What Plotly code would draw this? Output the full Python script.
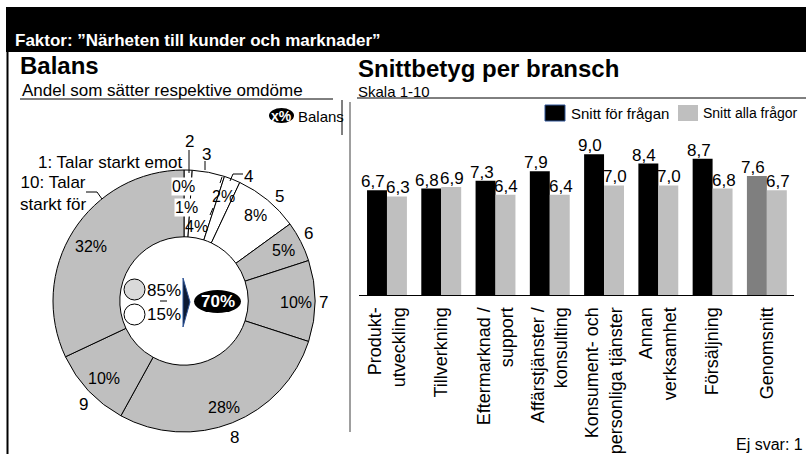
import plotly.graph_objects as go

W, H = 806, 454


def px(x):
    return x / W


def py(y):
    return 1 - y / H


FONT = "Arial, Liberation Sans, sans-serif"

# --- data ---
scores = ["1", "2", "3", "4", "5", "6", "7", "8", "9", "10"]
shares = [0, 1, 4, 2, 8, 5, 10, 28, 10, 32]
share_positive = 85
share_negative = 15
balance = 70

branches = ["Produkt-<br>utveckling", "Tillverkning", "Eftermarknad /<br>support",
            "Affärstjänster /<br>konsulting", "Konsument- och<br>personliga tjänster",
            "Annan<br>verksamhet", "Försäljning", "Genomsnitt"]
snitt_fragan = [6.7, 6.8, 7.3, 7.9, 9.0, 8.4, 8.7, 7.6]
snitt_alla = [6.3, 6.9, 6.4, 6.4, 7.0, 7.0, 6.8, 6.7]
ej_svar = 1

GRAY = "#BFBFBF"
slice_colors = ["white"] * 5 + [GRAY] * 5
BARGAP = 0.265

fig = go.Figure()

fig.add_trace(go.Pie(
    values=shares, labels=scores, sort=False, direction="clockwise", rotation=0,
    hole=0.49, textinfo="none", hoverinfo="label+percent", showlegend=False,
    marker=dict(colors=slice_colors, line=dict(color="black", width=1)),
    domain=dict(x=[px(53), px(315)], y=[py(432), py(170)])))

fig.add_trace(go.Bar(
    x=branches, y=snitt_fragan, name="Snitt för frågan",
    marker=dict(color=["black"] * 7 + ["#7F7F7F"], line=dict(width=0))))
fig.add_trace(go.Bar(
    x=branches, y=snitt_alla, name="Snitt alla frågor",
    marker=dict(color=GRAY, line=dict(width=0))))


def line(x0, y0, x1, y1, color="black", width=1):
    return dict(type="line", xref="paper", yref="paper", x0=px(x0), x1=px(x1),
                y0=py(y0), y1=py(y1), line=dict(color=color, width=width))


def box(kind, x0, y0, x1, y1, fill, lc=None, lw=0):
    return dict(type=kind, xref="paper", yref="paper", x0=px(x0), x1=px(x1),
                y0=py(y1), y1=py(y0), fillcolor=fill,
                line=dict(color=lc or fill, width=lw), layer="above")


def path(points, fill=None, lc="black", lw=1, closed=False):
    d = " ".join(("M" if i == 0 else "L") + f" {px(x)} {py(y)}"
                 for i, (x, y) in enumerate(points))
    if closed:
        d += " Z"
    s = dict(type="path", xref="paper", yref="paper", path=d,
             line=dict(color=lc, width=lw))
    if fill:
        s["fillcolor"] = fill
    return s


shapes = [
    box("rect", 6, 7, 806, 52, "black"),
    line(7.5, 52, 7.5, 454, width=2),
    line(20, 99, 333, 99),
    line(357, 98, 806, 98),
    line(342, 100, 342, 135),
    line(350, 102, 350, 432, color="#7F7F7F", width=1.5),
    # balance marker top right
    box("circle", 269, 108, 294, 123, "black"),
    # legend squares
    box("rect", 545, 105, 565, 121, "black", "#2F5597", 1),
    box("rect", 678, 105, 698, 121, GRAY),
    # centre of donut
    box("circle", 124, 279, 145, 300, "#D9D9D9", "black", 1),
    box("circle", 124, 304, 145, 325, "white", "black", 1),
    line(160, 301, 167, 301),
    path([(183, 278), (190, 302), (183, 327)], fill="#0D1A33", lc="#2F5597", closed=True),
    box("circle", 194, 290, 241, 313, "black"),
    # leader lines
    line(189, 150, 189, 173),
    line(205, 161, 205, 170),
    path([(243, 174), (233, 174), (230, 181)]),
    line(222, 177, 220, 183),
    line(213, 208, 210, 215),
    path([(86, 192), (97, 192), (102, 199)]),
]


def note(text, x, y, size=16, color="black", anchor="center", bold=False, bg=None):
    if bold:
        text = f"<b>{text}</b>"
    a = dict(text=text, x=px(x), y=py(y), xref="paper", yref="paper",
             showarrow=False, xanchor=anchor, yanchor="middle",
             font=dict(size=size, color=color, family=FONT))
    if bg:
        a["bgcolor"] = bg
        a["borderpad"] = 0
    return a


annotations = [
    note("Faktor: ”Närheten till kunder och marknader”", 13, 40, 17, "white", "left", True),
    note("Balans", 18, 65, 24, anchor="left", bold=True),
    note("Andel som sätter respektive omdöme", 20, 90, 17, anchor="left"),
    note("Snittbetyg per bransch", 356, 68, 24, anchor="left", bold=True),
    note("Skala 1-10", 356, 91, 15, anchor="left"),
    note("x%", 281.5, 115.5, 14, "white", bold=True),
    note("Balans", 296, 116, 15, anchor="left"),
    note("Snitt för frågan", 569, 113, 15, anchor="left"),
    note("Snitt alla frågor", 701, 113, 14, anchor="left"),
    note(f"Ej svar: {ej_svar}", 805, 444, 16, anchor="right"),
    note(f"{share_positive}%", 164, 290, 17),
    note(f"{share_negative}%", 164, 314, 17),
    note(f"{balance}%", 217.5, 301.5, 17, "white", bold=True),
]

# outer labels of the donut
outer_pos = {"2": (189, 141), "3": (206, 154), "4": (248, 176), "5": (279, 196),
             "6": (308, 233), "7": (323, 302), "8": (235, 437), "9": (83, 404)}
for s in scores:
    if s in outer_pos:
        annotations.append(note(s, *outer_pos[s], size=17))
annotations.append(note("1: Talar starkt emot", 185, 162, 17, anchor="right"))
annotations.append(note("10: Talar<br>starkt för", 18, 193, 17, anchor="left"))

# percentage labels of the donut
inner_pos = [(183.5, 186), (186, 207), (196, 226), (223, 196), (255, 215),
             (283.5, 251), (296, 302), (224, 407), (104, 378), (91, 246)]
for i, (v, pos) in enumerate(zip(shares, inner_pos)):
    annotations.append(note(f"{v}%", *pos, bg="white" if i < 2 else None))

# value labels above the bars
half = (1 - BARGAP) / 4
for i in range(len(branches)):
    for vals, off, shift in ((snitt_fragan, -half, -4), (snitt_alla, half, 1)):
        annotations.append(dict(
            x=i + off, y=vals[i], xref="x", yref="y", text=f"{vals[i]:.1f}".replace(".", ","),
            showarrow=False, xanchor="center", yanchor="bottom", xshift=shift, yshift=-3,
            font=dict(size=17, color="black", family=FONT)))

fig.update_layout(
    width=W, height=H, margin=dict(l=0, r=0, t=0, b=0),
    paper_bgcolor="white", plot_bgcolor="white",
    font=dict(family=FONT, color="black"),
    separators=", ", showlegend=False,
    barmode="group", bargap=BARGAP, bargroupgap=0,
    xaxis=dict(domain=[px(359), px(794)], showline=True, linecolor="black",
               linewidth=1, ticks="", tickangle=-90, showgrid=False,
               tickfont=dict(size=18, family=FONT, color="black"),
               ticklabelstandoff=4, fixedrange=True),
    yaxis=dict(domain=[py(295), py(138.5)], range=[0, 10], visible=False,
               fixedrange=True),
    shapes=shapes, annotations=annotations,
)

fig.write_html("out.html", config={"displayModeBar": False},
               post_script="document.body.style.margin = '0px';")
